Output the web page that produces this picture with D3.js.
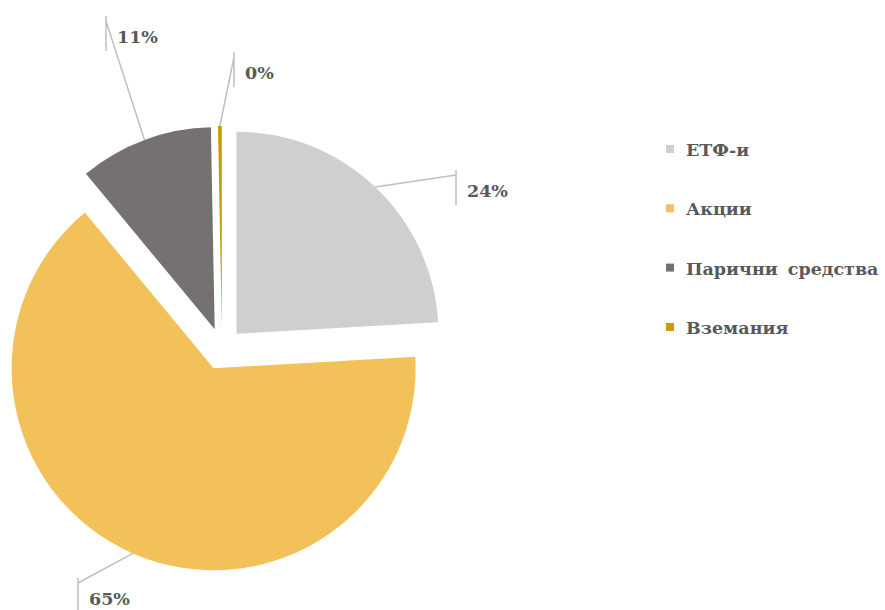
<!DOCTYPE html>
<html>
<head>
<meta charset="utf-8">
<script src="https://cdn.jsdelivr.net/npm/d3@7"></script>
<style>
  body { margin: 0; background: #fff; }
  svg text { font-family: 'DejaVu Serif', 'Liberation Serif', serif; font-weight: bold; fill: #595959; }
</style>
</head>
<body>
<div id="chart"></div>
<script>
const categories = ['ЕТФ-и', 'Акции', 'Парични средства', 'Вземания']
const values = [24.1, 64.9, 10.7, 0.3]
const percentLabels = ['24%', '65%', '11%', '0%']
const colors = ['#d0cece', '#f2c15a', '#767171', '#c99c00']

// label box (left bar x, top y) for each slice, as placed in the original
const labelBoxes = [
  { x: 456, y: 170 },
  { x: 78, y: 578 },
  { x: 106, y: 16 },
  { x: 234, y: 52 }
]

const drawPie = () => {
  const width = 885
  const height = 610
  const center = { x: 222, y: 349 }
  const radius = 202
  const explode = 21

  const data = categories.map((c, i) => ({ name: c, value: values[i], label: percentLabels[i], color: colors[i], box: labelBoxes[i] }))

  const wrapper = d3.select('#chart')
    .append('svg')
    .attr('width', width)
    .attr('height', height)

  const bounds = wrapper.append('g')
    .attr('transform', `translate(${center.x}, ${center.y})`)

  const pie = d3.pie().sort(null).value((d) => d.value)
  const arc = d3.arc().innerRadius(0).outerRadius(radius)
  const arcs = pie(data)

  const mid = (d) => (d.startAngle + d.endAngle) / 2
  const shift = (d) => [Math.sin(mid(d)) * explode, -Math.cos(mid(d)) * explode]

  // slices
  bounds.selectAll('path.slice')
    .data(arcs)
    .join('path')
    .attr('class', 'slice')
    .attr('d', arc)
    .attr('fill', (d) => d.data.color)
    .attr('transform', (d) => `translate(${shift(d)})`)

  // leader lines
  const leaders = wrapper.append('g')
  arcs.forEach((d) => {
    const [sx, sy] = shift(d)
    const a = mid(d)
    const x0 = center.x + sx + Math.sin(a) * radius
    const y0 = center.y + sy - Math.cos(a) * radius
    const b = d.data.box
    leaders.append('path')
      .attr('d', `M${x0},${y0}L${b.x},${b.y + 5}M${b.x},${b.y}L${b.x},${b.y + 35}`)
      .attr('fill', 'none')
      .attr('stroke', '#bfbfbf')
      .attr('stroke-width', 1.5)
    leaders.append('text')
      .attr('x', b.x + 11)
      .attr('y', b.y + 27)
      .attr('font-size', 17.5)
      .text(d.data.label)
  })

  // legend
  const legend = wrapper.append('g')
    .attr('transform', 'translate(666, 145)')
  const items = legend.selectAll('g')
    .data(data)
    .join('g')
    .attr('transform', (d, i) => `translate(0, ${i * 59.3})`)
  items.append('rect')
    .attr('width', 8)
    .attr('height', 8)
    .attr('fill', (d) => d.color)
  items.append('text')
    .attr('x', 20)
    .attr('y', 11)
    .attr('font-size', 17.5)
    .style('word-spacing', '4px')
    .text((d) => d.name)
}

drawPie()
</script>
</body>
</html>
